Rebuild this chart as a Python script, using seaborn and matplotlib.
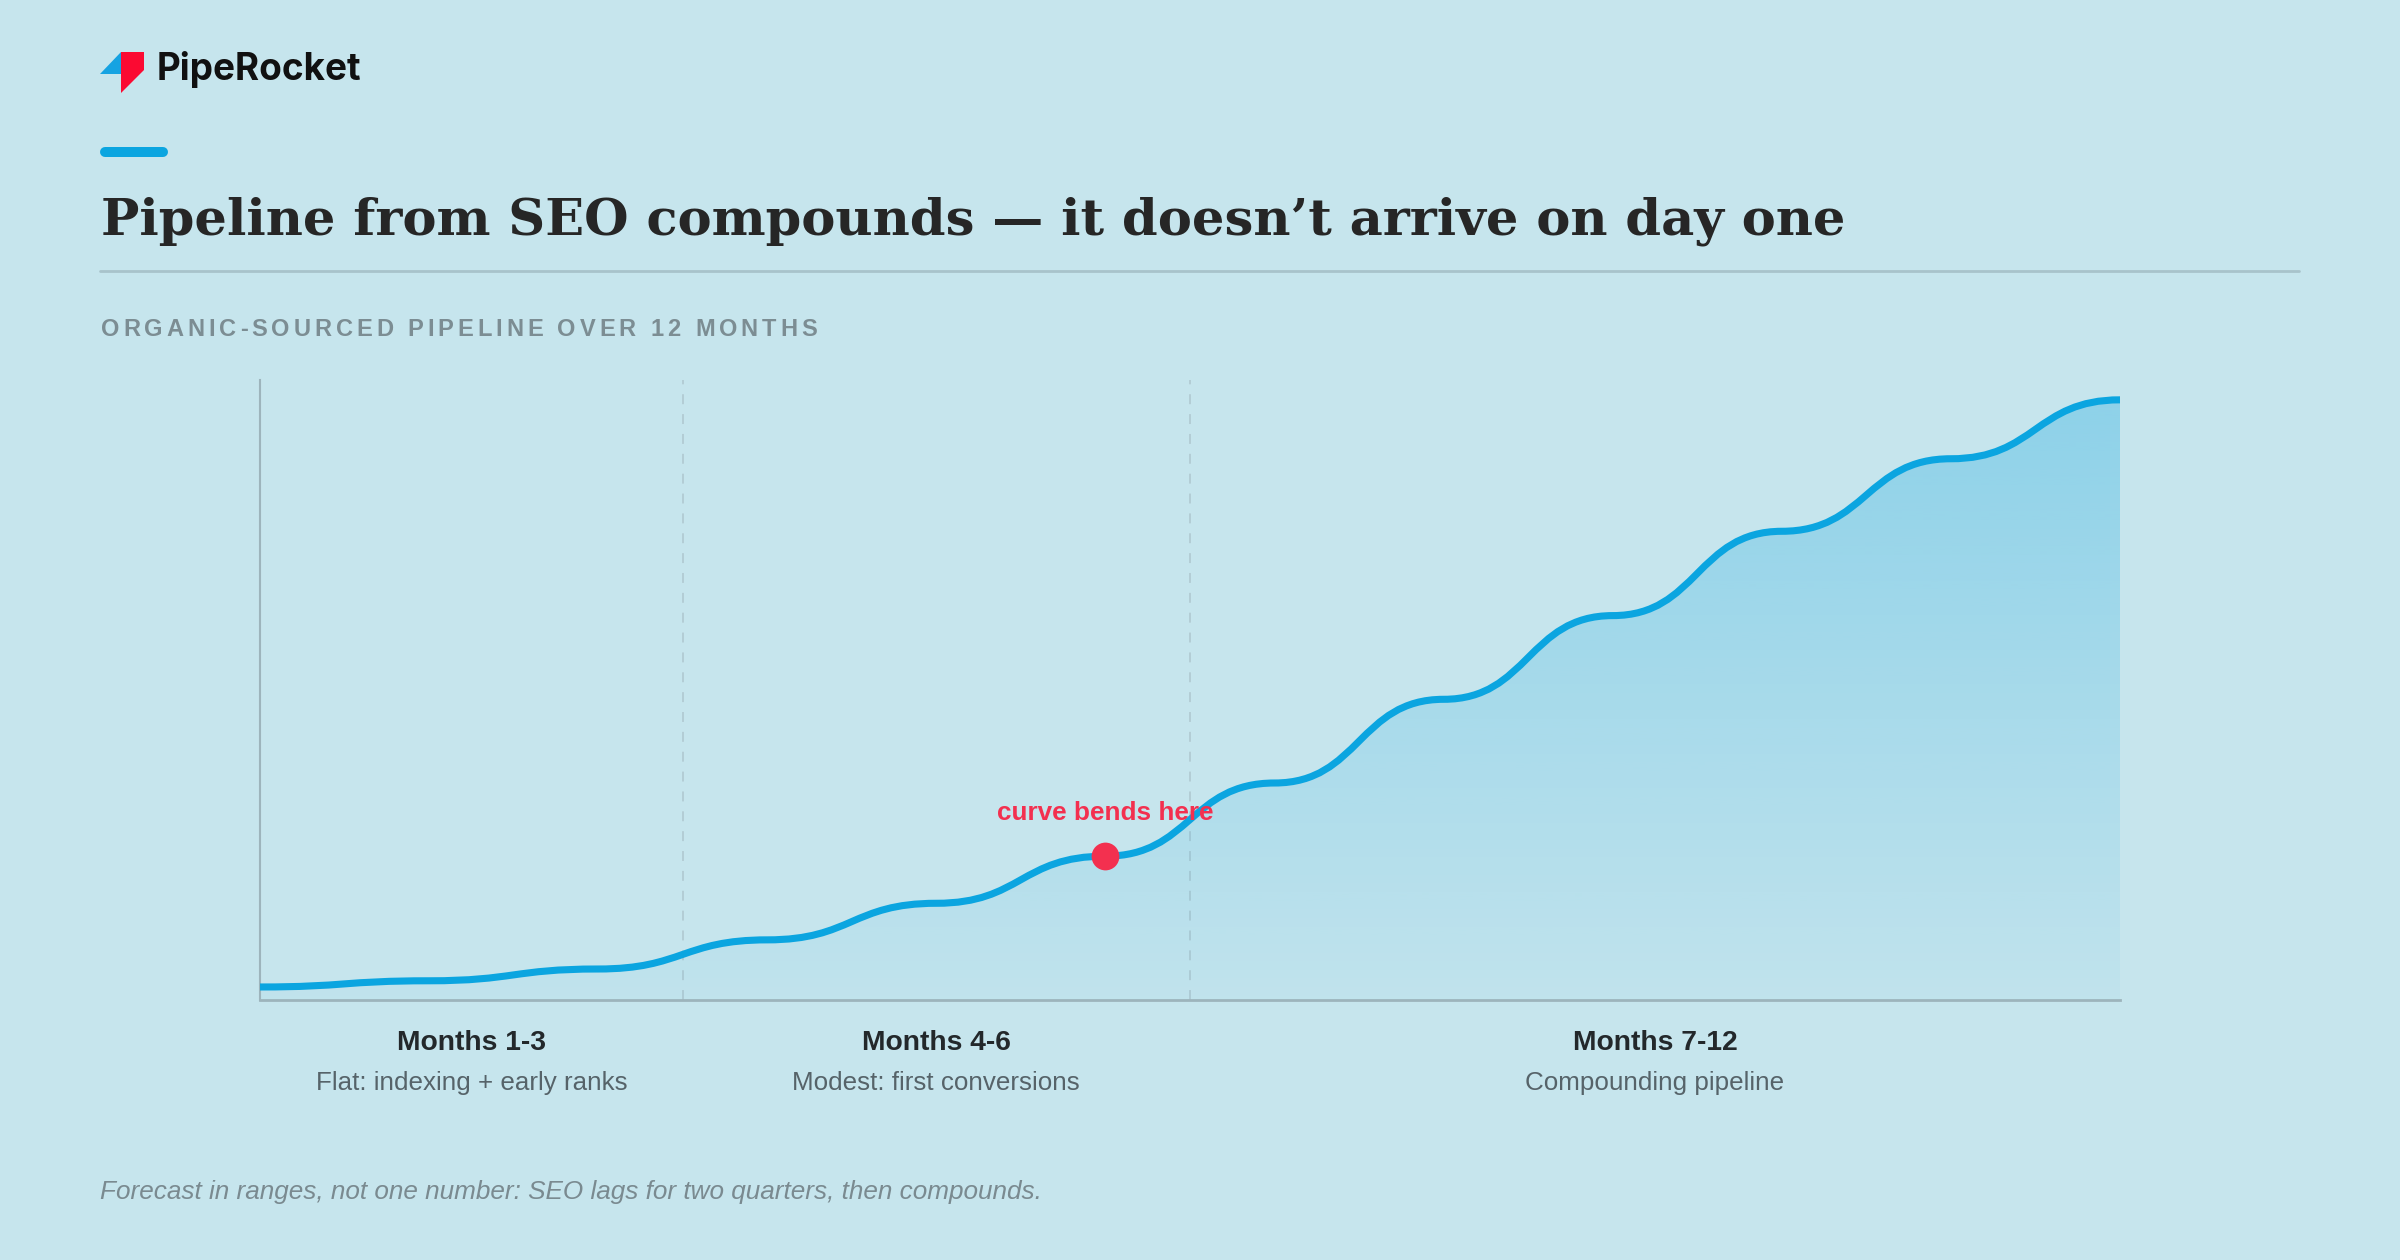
import numpy as np
import pandas as pd
import matplotlib
matplotlib.use("Agg")
import matplotlib.pyplot as plt
import seaborn as sns
from matplotlib.path import Path
from matplotlib.patches import PathPatch, Polygon
from matplotlib.lines import Line2D
from matplotlib.colors import to_rgb

# ---------------- data ----------------
months = [1, 2, 3, 4, 5, 6, 7, 8, 9, 10, 11, 12]
pipeline = [2.1, 3.1, 5.0, 9.7, 15.6, 23.2, 35.0, 48.5, 62.0, 75.6, 87.3, 96.8]
phase_bounds = [3.5, 6.5]
phase_titles = ["Months 1-3", "Months 4-6", "Months 7-12"]
phase_notes = ["Flat: indexing + early ranks", "Modest: first conversions", "Compounding pipeline"]
highlight_month = 6
highlight_label = "curve bends here"
brand = "PipeRocket"
title = "Pipeline from SEO compounds \u2014 it doesn\u2019t arrive on day one"
subtitle = "ORGANIC-SOURCED PIPELINE OVER 12 MONTHS"
footnote = "Forecast in ranges, not one number: SEO lags for two quarters, then compounds."

# ---------------- style ----------------
BG = "#c6e5ed"
LINE = "#0ba5e0"
RED = "#f3304f"
AXIS = "#9db4bc"
W, H, DPI = 2400, 1260, 200

sns.set_theme(style="white", rc={
    "figure.facecolor": BG,
    "axes.facecolor": BG,
    "savefig.facecolor": BG,
})
plt.rcParams["font.family"] = ["Liberation Sans", "DejaVu Sans"]

fig = plt.figure(figsize=(W / DPI, H / DPI), dpi=DPI)


def fx(x):
    return x / W


def fy(y):
    return 1 - y / H


# plot area: x 260..2120, y 380..1000 (px)
ax = fig.add_axes([fx(260), fy(1000), fx(2120 - 260), (1000 - 380) / H])
ax.set_xlim(months[0], months[-1])
ax.set_ylim(0, 100)

df = pd.DataFrame({"month": months, "pipeline": pipeline})

# bump-x curve (horizontal tangent at each monthly point)
verts = [(months[0], pipeline[0])]
codes = [Path.MOVETO]
for i in range(1, len(months)):
    x0, y0 = months[i - 1], pipeline[i - 1]
    x1, y1 = months[i], pipeline[i]
    xm = (x0 + x1) / 2
    verts += [(xm, y0), (xm, y1), (x1, y1)]
    codes += [Path.CURVE4] * 3
line_path = Path(verts, codes)
area_path = Path(verts + [(months[-1], 0), (months[0], 0), (months[0], pipeline[0])],
                 codes + [Path.LINETO, Path.LINETO, Path.CLOSEPOLY])

# gradient fill under the curve
clip = PathPatch(area_path, facecolor="none", edgecolor="none", transform=ax.transData)
ax.add_patch(clip)
n = 256
rgba = np.zeros((n, 1, 4))
rgba[..., :3] = to_rgb(LINE)
rgba[:, 0, 3] = np.linspace(0.03, 0.31, n)
im = ax.imshow(rgba, extent=[months[0], months[-1], 0, 100], origin="lower",
               aspect="auto", zorder=1, interpolation="bilinear")
im.set_clip_path(clip)

# phase dividers
for b in phase_bounds:
    ax.axvline(b, color="#aec6ce", lw=0.55, dashes=(6.5, 6.5), zorder=0.5)

# main line
ax.add_patch(PathPatch(line_path, facecolor="none", edgecolor=LINE, lw=2.55,
                       capstyle="round", joinstyle="round", zorder=3))

# highlight point
hi = df[df["month"] == highlight_month]
sns.scatterplot(data=hi, x="month", y="pipeline", ax=ax, s=100, color=RED,
                linewidth=0, zorder=5, legend=False)
ax.annotate(highlight_label, (highlight_month, hi["pipeline"].iloc[0]),
            xytext=(0, 13), textcoords="offset points", ha="center", va="baseline",
            fontsize=9.4, fontweight="bold", color=RED, zorder=6)

# axes styling
ax.set_xlabel("")
ax.set_ylabel("")
ax.set_xticks([])
ax.set_yticks([])
for s in ["top", "right"]:
    ax.spines[s].set_visible(False)
ax.spines["left"].set_color(AXIS)
ax.spines["left"].set_linewidth(0.75)
ax.spines["bottom"].set_color(AXIS)
ax.spines["bottom"].set_linewidth(1.0)

# phase labels
edges = [months[0]] + phase_bounds + [months[-1]]
tr = ax.get_xaxis_transform()
for i, (t, nte) in enumerate(zip(phase_titles, phase_notes)):
    cx = (edges[i] + edges[i + 1]) / 2
    ax.text(cx, -(1050 - 1000) / 620, t, transform=tr, ha="center", va="baseline",
            fontsize=10.2, fontweight="bold", color="#23282b")
    ax.text(cx, -(1090 - 1000) / 620, nte, transform=tr, ha="center", va="baseline",
            fontsize=9.35, color="#566369")

# ---------------- header ----------------
# logo mark
fig.add_artist(Polygon([(fx(100), fy(74)), (fx(121), fy(52)), (fx(121), fy(74))],
                       closed=True, facecolor="#16a3e2", edgecolor="none",
                       transform=fig.transFigure))
fig.add_artist(Polygon([(fx(121), fy(52)), (fx(144), fy(52)), (fx(144), fy(70)),
                        (fx(121), fy(93))],
                       closed=True, facecolor="#fb0a32", edgecolor="none",
                       transform=fig.transFigure))
fig.text(fx(157), fy(80), brand, fontsize=13.3, fontweight="bold", family=["Inter", "DejaVu Sans"],
         color="#111111", ha="left", va="baseline")

# accent bar
fig.add_artist(Line2D([fx(105), fx(163)], [fy(152), fy(152)], lw=3.6, color=LINE,
                      solid_capstyle="round", transform=fig.transFigure))

# title
fig.text(fx(101), fy(235), title, fontsize=18.4, fontweight="bold",
         family=["DejaVu Serif"], color="#262626", ha="left", va="baseline")

# rule under title
fig.add_artist(Line2D([fx(100), fx(2299)], [fy(271), fy(271)], lw=1.0, color="#a8c3cb",
                      transform=fig.transFigure))

# letter-spaced subtitle
renderer = fig.canvas.get_renderer()
sub_kw = dict(fontsize=8.5, fontweight="bold", color="#7c8d93")
ref = fig.text(0, 0, "|", **sub_kw)
wref = ref.get_window_extent(renderer).width
ref.remove()
spacing = 3.9
for i, ch in enumerate(subtitle):
    if ch == " ":
        continue
    t = fig.text(0, 0, subtitle[:i] + "|", **sub_kw)
    w = t.get_window_extent(renderer).width - wref
    t.remove()
    fig.text(fx(101 + w + i * spacing), fy(336), ch, ha="left", va="baseline", **sub_kw)

# footnote
fig.text(fx(100), fy(1199), footnote, fontsize=9.4, style="italic", color="#7a8a90",
         ha="left", va="baseline")

fig.savefig("out.png", dpi=DPI, facecolor=BG)
